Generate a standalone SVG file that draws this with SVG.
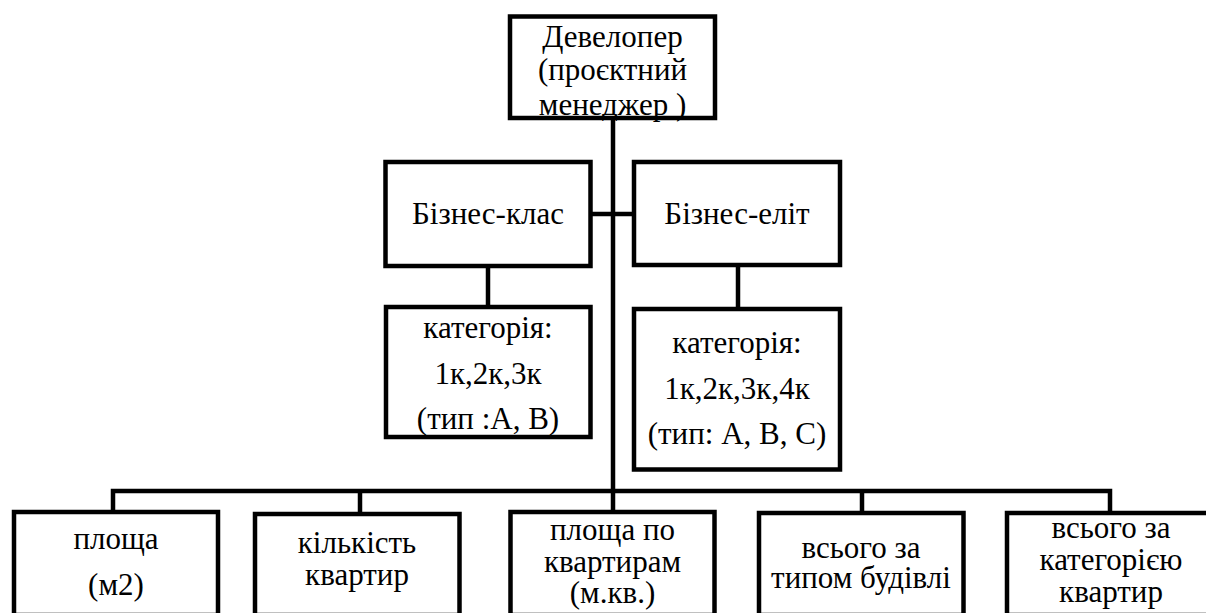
<svg xmlns="http://www.w3.org/2000/svg" width="1206" height="613" viewBox="0 0 1206 613">
<style>
.box{fill:#fff;stroke:#000;stroke-width:4.5}
.ln{fill:none;stroke:#000;stroke-width:4.5}
</style>
<rect width="1206" height="613" fill="#fff"/>
<g id="connectors">
<line class="ln" x1="613" y1="118" x2="613" y2="513"/>
<line class="ln" x1="590" y1="214" x2="634" y2="214"/>
<line class="ln" x1="488" y1="266" x2="488" y2="307"/>
<line class="ln" x1="738" y1="266" x2="738" y2="309"/>
<polyline class="ln" points="113,512 113,491 1110,491 1110,513"/>
<line class="ln" x1="360" y1="491" x2="360" y2="514"/>
<line class="ln" x1="862" y1="491" x2="862" y2="513"/>
</g>
<g id="n-developer">
<rect class="box" x="510" y="16.5" width="205" height="101.5"/>
<text font-family="Times New Roman" font-size="31" text-anchor="middle" x="612.5" y="47">Девелопер</text>
<text font-family="Times New Roman" font-size="31" text-anchor="middle" x="612.5" y="80">(проєктний</text>
<text font-family="Times New Roman" font-size="31" text-anchor="middle" x="612.5" y="115">менеджер )</text>
</g>
<g id="n-business">
<rect class="box" x="385.5" y="162" width="205" height="104"/>
<text font-family="Times New Roman" font-size="31" text-anchor="middle" x="488" y="224">Бізнес-клас</text>
</g>
<g id="n-elite">
<rect class="box" x="634" y="162" width="206" height="103"/>
<text font-family="Times New Roman" font-size="31" text-anchor="middle" x="737" y="224">Бізнес-еліт</text>
</g>
<g id="n-cat-business">
<rect class="box" x="386" y="307" width="204.5" height="130"/>
<text font-family="Times New Roman" font-size="31" text-anchor="middle" x="488" y="338">категорія:</text>
<text font-family="Times New Roman" font-size="31" text-anchor="middle" x="488" y="384">1к,2к,3к</text>
<text font-family="Times New Roman" font-size="31" text-anchor="middle" x="488" y="429">(тип :А, В)</text>
</g>
<g id="n-cat-elite">
<rect class="box" x="634" y="309" width="206" height="160.5"/>
<text font-family="Times New Roman" font-size="31" text-anchor="middle" x="737" y="353">категорія:</text>
<text font-family="Times New Roman" font-size="31" text-anchor="middle" x="737" y="399">1к,2к,3к,4к</text>
<text font-family="Times New Roman" font-size="31" text-anchor="middle" x="737" y="444">(тип: А, В, С)</text>
</g>
<g id="n-area">
<rect class="box" x="14" y="512" width="204" height="103"/>
<text font-family="Times New Roman" font-size="31" text-anchor="middle" x="116" y="549">площа</text>
<text font-family="Times New Roman" font-size="31" text-anchor="middle" x="116" y="595">(м2)</text>
</g>
<g id="n-count">
<rect class="box" x="255" y="514" width="204.5" height="101"/>
<text font-family="Times New Roman" font-size="31" text-anchor="middle" x="357" y="553">кількість</text>
<text font-family="Times New Roman" font-size="31" text-anchor="middle" x="357" y="585">квартир</text>
</g>
<g id="n-area-flats">
<rect class="box" x="510.5" y="512" width="204" height="103"/>
<text font-family="Times New Roman" font-size="31" text-anchor="middle" x="612.5" y="540">площа по</text>
<text font-family="Times New Roman" font-size="31" text-anchor="middle" x="612.5" y="572">квартирам</text>
<text font-family="Times New Roman" font-size="31" text-anchor="middle" x="612.5" y="603">(м.кв.)</text>
</g>
<g id="n-total-type">
<rect class="box" x="759" y="513" width="204.5" height="102"/>
<text font-family="Times New Roman" font-size="31" text-anchor="middle" x="861" y="558">всього за</text>
<text font-family="Times New Roman" font-size="31" text-anchor="middle" x="861" y="588">типом будівлі</text>
</g>
<g id="n-total-cat">
<rect class="box" x="1007" y="513" width="208" height="102"/>
<text font-family="Times New Roman" font-size="31" text-anchor="middle" x="1111" y="538">всього за</text>
<text font-family="Times New Roman" font-size="31" text-anchor="middle" x="1111" y="570">категорією</text>
<text font-family="Times New Roman" font-size="31" text-anchor="middle" x="1111" y="602">квартир</text>
</g>
</svg>
